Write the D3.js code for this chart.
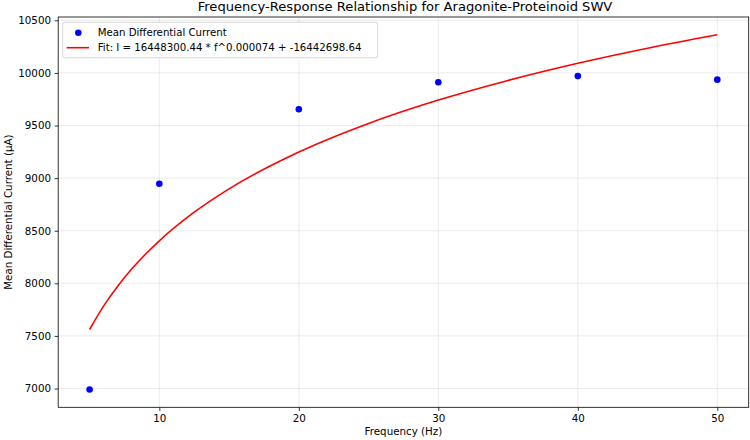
<!DOCTYPE html>
<html>
<head>
<meta charset="utf-8">
<script src="https://cdn.jsdelivr.net/npm/d3@7"></script>
<style>
	body { margin: 0; background: #fff; }
	svg { display: block; font-family: "DejaVu Sans", sans-serif; }
</style>
</head>
<body>
<div id="chart"></div>
<script>

// measured points
let frequency = [5, 10, 20, 30, 40, 50];
let meanCurrent = [6990, 8946, 9655, 9912, 9970, 9936];

// fit curve
let fitFrequency = [5, 6, 7, 8, 10, 12.5, 15, 20, 25, 30, 35, 40, 45, 50];
let fitCurrent = [7561, 7783, 7970, 8133, 8404, 8676, 8898, 9248, 9520, 9742, 9929, 10092, 10235, 10363];

let xTicks = [10, 20, 30, 40, 50];
let yTicks = [7000, 7500, 8000, 8500, 9000, 9500, 10000, 10500];

let titleText = "Frequency-Response Relationship for Aragonite-Proteinoid SWV";
let legendLabels = ["Mean Differential Current", "Fit: I = 16448300.44 * f^0.000074 + -16442698.64"];

let width = 750, height = 440;
let margin = {top: 17, right: 1.3, bottom: 32.7, left: 58.2};
let innerW = width - margin.left - margin.right;
let innerH = height - margin.top - margin.bottom;

let svg = d3.select("#chart").append("svg")
	.attr("width", width)
	.attr("height", height);

let g = svg.append("g")
	.attr("transform", "translate(" + margin.left + "," + margin.top + ")");

// matplotlib style 5% margins
let xExt = d3.extent(frequency.concat(fitFrequency));
let yExt = d3.extent(meanCurrent.concat(fitCurrent));
let xPad = (xExt[1] - xExt[0]) * 0.05;
let yPad = (yExt[1] - yExt[0]) * 0.05;

let x = d3.scaleLinear()
	.domain([xExt[0] - xPad, xExt[1] + xPad])
	.range([0, innerW]);

let y = d3.scaleLinear()
	.domain([yExt[0] - yPad, yExt[1] + yPad])
	.range([innerH, 0]);

// grid
g.append("g").selectAll("line").data(xTicks).enter().append("line")
	.attr("x1", d => x(d)).attr("x2", d => x(d))
	.attr("y1", 0).attr("y2", innerH)
	.attr("stroke", "#b0b0b0").attr("stroke-opacity", 0.3).attr("stroke-width", 0.8);

g.append("g").selectAll("line").data(yTicks).enter().append("line")
	.attr("x1", 0).attr("x2", innerW)
	.attr("y1", d => y(d)).attr("y2", d => y(d))
	.attr("stroke", "#b0b0b0").attr("stroke-opacity", 0.3).attr("stroke-width", 0.8);

// axes
let xAxis = d3.axisBottom(x).tickValues(xTicks).tickSize(3.6).tickPadding(3.6).tickFormat(d3.format("d"));
let yAxis = d3.axisLeft(y).tickValues(yTicks).tickSize(3.6).tickPadding(3.6).tickFormat(d3.format("d"));

g.append("g")
	.attr("class", "x-axis")
	.attr("transform", "translate(0," + innerH + ")")
	.call(xAxis);

g.append("g")
	.attr("class", "y-axis")
	.call(yAxis);

g.selectAll(".x-axis .domain, .y-axis .domain").remove();
g.selectAll(".tick line").attr("stroke", "#000").attr("stroke-width", 0.8);
g.selectAll(".tick text").attr("font-size", "10.3px").attr("fill", "#000")
	.attr("font-family", "DejaVu Sans, sans-serif");

// spines
g.append("rect")
	.attr("x", 0).attr("y", 0)
	.attr("width", innerW).attr("height", innerH)
	.attr("fill", "none")
	.attr("stroke", "#000")
	.attr("stroke-width", 0.8);

// fit line
let line = d3.line()
	.x((d, i) => x(fitFrequency[i]))
	.y(d => y(d))
	.curve(d3.curveMonotoneX);

g.append("path")
	.datum(fitCurrent)
	.attr("d", line)
	.attr("fill", "none")
	.attr("stroke", "#ff0000")
	.attr("stroke-width", 1.55);

// points
g.selectAll(".dot").data(meanCurrent).enter().append("circle")
	.attr("class", "dot")
	.attr("cx", (d, i) => x(frequency[i]))
	.attr("cy", d => y(d))
	.attr("r", 3.3)
	.attr("fill", "#0000ff");

// legend
let legend = g.append("g").attr("transform", "translate(4.5,5.3)");
legend.append("rect")
	.attr("width", 315)
	.attr("height", 35.4)
	.attr("rx", 2).attr("ry", 2)
	.attr("fill", "#fff").attr("fill-opacity", 0.8)
	.attr("stroke", "#cccccc").attr("stroke-width", 0.8);

legend.append("circle")
	.attr("cx", 15.6).attr("cy", 10.4).attr("r", 3.3)
	.attr("fill", "#0000ff");

legend.append("line")
	.attr("x1", 4).attr("x2", 26.3)
	.attr("y1", 25.4).attr("y2", 25.4)
	.attr("stroke", "#ff0000").attr("stroke-width", 1.55);

legend.selectAll(".leg-text").data(legendLabels).enter().append("text")
	.attr("class", "leg-text")
	.attr("x", 35)
	.attr("y", (d, i) => 10.4 + i * 15)
	.attr("dy", "0.35em")
	.attr("font-size", "10.2px")
	.text(d => d);

// title and axis labels
svg.append("text")
	.attr("x", (201.7 + 608.3) / 2)
	.attr("y", 11)
	.attr("text-anchor", "middle")
	.attr("font-size", "13.1px")
	.text(titleText);

svg.append("text")
	.attr("x", margin.left + innerW / 2)
	.attr("y", 435)
	.attr("text-anchor", "middle")
	.attr("font-size", "10.3px")
	.text("Frequency (Hz)");

svg.append("text")
	.attr("transform", "translate(12," + (margin.top + innerH / 2) + ") rotate(-90)")
	.attr("text-anchor", "middle")
	.attr("font-size", "10.3px")
	.text("Mean Differential Current (μA)");

</script>
</body>
</html>
